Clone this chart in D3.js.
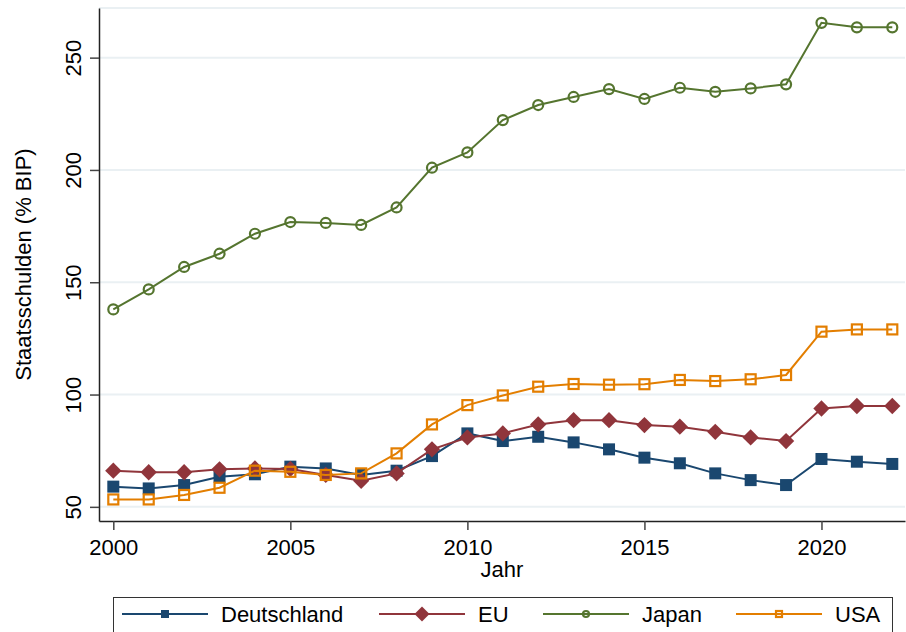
<!DOCTYPE html>
<html>
<head>
<meta charset="utf-8">
<script src="https://cdn.jsdelivr.net/npm/d3@7"></script>
<style>
  body { margin: 0; background: #fff; }
  text { font-family: "Liberation Sans", Arial, sans-serif; }
</style>
</head>
<body>
<div id="chart"></div>
<script>
// Staatsschulden in % des BIP, 2000-2022
var years = d3.range(2000, 2023);

var deutschland = [59.0, 58.2, 59.7, 63.4, 64.5, 67.9, 67.1, 64.2, 66.1, 72.6, 82.7,
                   79.3, 81.2, 78.7, 75.6, 71.9, 69.4, 64.9, 61.9, 59.7, 71.3, 70.1, 69.1];
var eu = [66.1, 65.4, 65.4, 66.7, 67.1, 66.9, 64.2, 61.6, 64.9, 75.6, 80.9,
          82.7, 86.7, 88.6, 88.6, 86.4, 85.7, 83.4, 80.9, 79.3, 93.8, 94.9, 94.9];
var japan = [137.9, 146.8, 156.8, 162.7, 171.6, 176.8, 176.4, 175.5, 183.3, 201.0, 207.8,
             222.2, 228.9, 232.5, 236.0, 231.6, 236.6, 234.8, 236.3, 238.1, 265.5, 263.5, 263.5];
var usa = [53.3, 53.3, 55.3, 58.5, 66.1, 65.6, 64.2, 64.9, 73.8, 86.7, 95.3,
           99.6, 103.5, 104.7, 104.4, 104.6, 106.5, 106.0, 106.8, 108.7, 128.0, 129.0, 129.0];

var seriesNames = ["Deutschland", "EU", "Japan", "USA"];
var yTicks = [50, 100, 150, 200, 250];
var xTicks = [2000, 2005, 2010, 2015, 2020];

var colors = {Deutschland: "#1a476f", EU: "#90353b", Japan: "#55752f", USA: "#e37e00"};
var markers = {Deutschland: "square", EU: "diamond", Japan: "circle", USA: "hsquare"};
var values = {Deutschland: deutschland, EU: eu, Japan: japan, USA: usa};

var W = 906, H = 632;
var plot = {left: 99, right: 905, top: 8, bottom: 521};
var fontSize = "22px";

// scales: data points 2000..2022 sit slightly inside the plot region
var x = d3.scaleLinear()
    .domain([1999.596, 2022.359])
    .range([plot.left, plot.right]);
var y = d3.scaleLinear()
    .domain([43.7, 272.1])
    .range([plot.bottom, plot.top]);

var svg = d3.select("#chart").append("svg")
    .attr("width", W).attr("height", H);

// grid lines
svg.append("g").selectAll("line")
    .data(yTicks)
    .enter().append("line")
    .attr("x1", plot.left).attr("x2", plot.right)
    .attr("y1", d => y(d)).attr("y2", d => y(d))
    .attr("stroke", "#eaf0f3").attr("stroke-width", 2);

// top border of plot region
svg.append("line")
    .attr("x1", plot.left).attr("x2", plot.right)
    .attr("y1", plot.top).attr("y2", plot.top)
    .attr("stroke", "#eaf0f3").attr("stroke-width", 2);

// axes
var yAxis = svg.append("g")
    .attr("transform", "translate(" + plot.left + ",0)")
    .call(d3.axisLeft(y).tickValues(yTicks).tickSize(9).tickSizeOuter(0).tickFormat(d3.format("d")));
yAxis.selectAll("text")
    .attr("transform", "translate(-18,0) rotate(-90)")
    .attr("x", 0).attr("y", 0).attr("dy", 0)
    .style("text-anchor", "middle")
    .style("font-size", fontSize).attr("fill", "#000");

var xAxis = svg.append("g")
    .attr("transform", "translate(0," + plot.bottom + ")")
    .call(d3.axisBottom(x).tickValues(xTicks).tickSize(9).tickSizeOuter(0).tickFormat(d3.format("d")));
xAxis.selectAll("text")
    .attr("y", 34).attr("dy", 0)
    .style("font-size", fontSize).attr("fill", "#000");

svg.selectAll(".domain").attr("stroke", "#222").attr("stroke-width", 1.5);
svg.selectAll(".tick line").attr("stroke", "#444").attr("stroke-width", 1.5);

// axis titles
svg.append("text")
    .attr("x", (plot.left + plot.right) / 2)
    .attr("y", 577)
    .attr("text-anchor", "middle")
    .style("font-size", fontSize)
    .text("Jahr");

svg.append("text")
    .attr("transform", "translate(31," + ((plot.top + plot.bottom) / 2) + ") rotate(-90)")
    .attr("text-anchor", "middle")
    .style("font-size", fontSize)
    .text("Staatsschulden (% BIP)");

// marker drawing
function drawMarker(g, kind, color, s) {
    if (kind === "square") {
        g.append("rect").attr("x", -s / 2).attr("y", -s / 2)
            .attr("width", s).attr("height", s).attr("fill", color);
    } else if (kind === "diamond") {
        var r = s * 0.68;
        g.append("path").attr("d", "M0," + (-r) + "L" + r + ",0L0," + r + "L" + (-r) + ",0Z")
            .attr("fill", color);
    } else if (kind === "circle") {
        g.append("circle").attr("r", s / 2 - 1).attr("fill", "none")
            .attr("stroke", color).attr("stroke-width", 2.2);
    } else {
        g.append("rect").attr("x", -s / 2 + 1).attr("y", -s / 2 + 1)
            .attr("width", s - 2).attr("height", s - 2).attr("fill", "none")
            .attr("stroke", color).attr("stroke-width", 2.2);
    }
}

var line = d3.line()
    .x((d, i) => x(years[i]))
    .y(d => y(d));

seriesNames.forEach(function (name) {
    var g = svg.append("g");
    g.append("path")
        .datum(values[name])
        .attr("d", line)
        .attr("fill", "none")
        .attr("stroke", colors[name])
        .attr("stroke-width", 2);
    values[name].forEach(function (v, i) {
        var m = g.append("g").attr("transform", "translate(" + x(years[i]) + "," + y(v) + ")");
        drawMarker(m, markers[name], colors[name], 12);
    });
});

// legend
var legend = svg.append("g");
legend.append("rect")
    .attr("x", 113.5).attr("y", 597.5)
    .attr("width", 779).attr("height", 60)
    .attr("fill", "#fff").attr("stroke", "#333").attr("stroke-width", 1);

var legendX = [122, 379, 543, 736];
seriesNames.forEach(function (name, i) {
    var g = legend.append("g").attr("transform", "translate(" + legendX[i] + ",614)");
    g.append("line").attr("x1", 0).attr("x2", 86)
        .attr("stroke", colors[name]).attr("stroke-width", 2);
    var m = g.append("g").attr("transform", "translate(43,0)");
    drawMarker(m, markers[name], colors[name], name === "EU" ? 11 : 8);
    g.append("text").attr("x", 99).attr("y", 8)
        .style("font-size", fontSize)
        .text(name);
});
</script>
</body>
</html>
